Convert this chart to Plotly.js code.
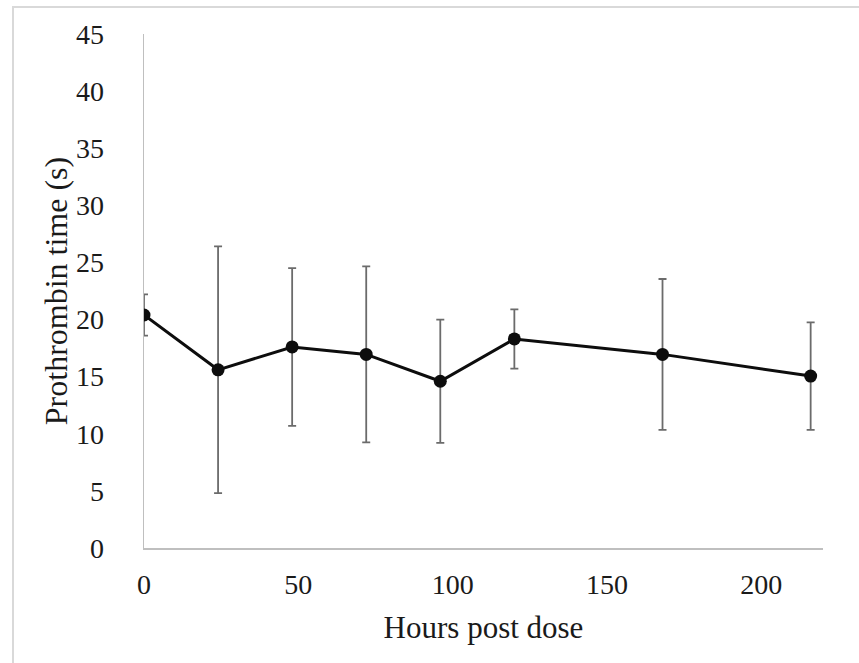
<!DOCTYPE html>
<html>
<head>
<meta charset="utf-8">
<script src="https://cdn.plot.ly/plotly-3.0.1.min.js"></script>
<style>
  html, body { margin: 0; padding: 0; background: #fff; }
  #wrap { position: relative; width: 859px; height: 663px; }
  #frame { position: absolute; left: 12px; top: 6px; width: 847px; height: 657px;
           border-top: 2px solid #d9d9d9; border-left: 2px solid #d9d9d9; box-sizing: border-box; pointer-events: none; }
  #chart { position: absolute; left: 0; top: 0; width: 859px; height: 663px; }
</style>
</head>
<body>
<div id="wrap">
  <div id="chart"></div>
  <div id="frame"></div>
</div>
<script>
// Hours post dose
const hours = [0, 24, 48, 72, 96, 120, 168, 216];
// Mean prothrombin time (s)
const ptMean = [20.4, 15.6, 17.6, 16.95, 14.6, 18.3, 16.95, 15.05];
// Error (± s)
const ptErr = [1.8, 10.8, 6.9, 7.7, 5.4, 2.6, 6.6, 4.7];
const xTicks = [0, 50, 100, 150, 200];
const yTicks = [0, 5, 10, 15, 20, 25, 30, 35, 40, 45];

const FONT = "Liberation Serif, Times New Roman, serif";

const trace = {
  x: hours,
  y: ptMean,
  type: 'scatter',
  mode: 'lines+markers',
  line: { color: '#0d0d0d', width: 3 },
  marker: { color: '#0d0d0d', size: 13 },
  error_y: { type: 'data', array: ptErr, visible: true, color: '#6b6b6b', thickness: 1.8, width: 4 },
  showlegend: false,
  hoverinfo: 'x+y'
};

const layout = {
  width: 859,
  height: 663,
  margin: { l: 144, r: 36, t: 34, b: 115 },
  paper_bgcolor: '#ffffff',
  plot_bgcolor: '#ffffff',
  font: { family: FONT, color: '#1a1a1a', size: 28 },
  xaxis: {
    range: [0, 220],
    tickvals: xTicks,
    ticktext: xTicks.map(String),
    showgrid: false,
    zeroline: false,
    showline: true,
    linecolor: '#bfbfbf',
    linewidth: 1.5,
    ticks: '',
    ticklabelstandoff: 11,
    tickfont: { family: FONT, size: 28, color: '#1a1a1a' },
    title: { text: 'Hours post dose', standoff: 17, font: { family: FONT, size: 31, color: '#1a1a1a' } }
  },
  yaxis: {
    range: [0, 45],
    tickvals: yTicks,
    ticktext: yTicks.map(String),
    showgrid: false,
    zeroline: false,
    showline: true,
    linecolor: '#bfbfbf',
    linewidth: 1.5,
    ticks: '',
    ticklabelstandoff: 33,
    tickfont: { family: FONT, size: 28, color: '#1a1a1a' },
    title: { text: 'Prothrombin time (s)', font: { family: FONT, size: 32, color: '#1a1a1a' } }
  }
};

Plotly.newPlot('chart', [trace], layout, { displayModeBar: false, staticPlot: true });
</script>
</body>
</html>
